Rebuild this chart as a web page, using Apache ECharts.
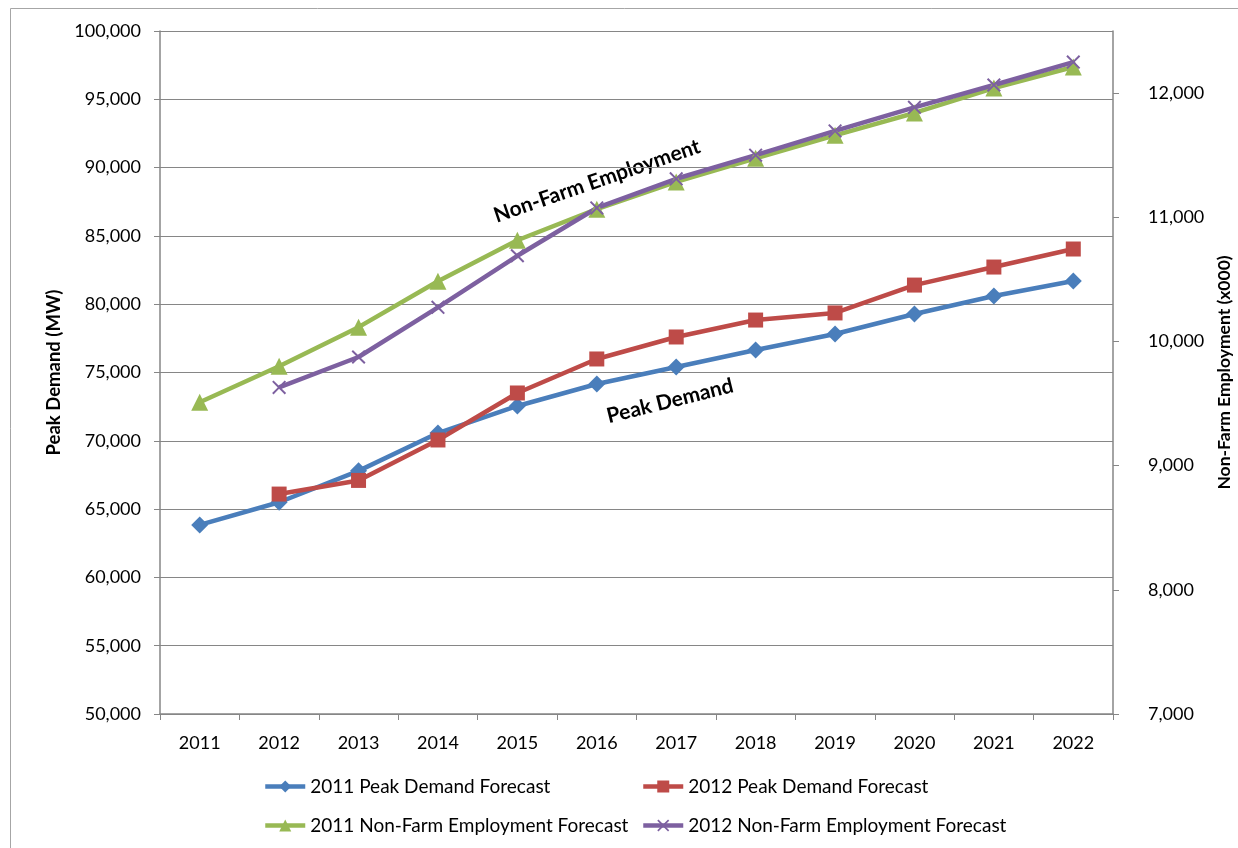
<!DOCTYPE html>
<html>
<head>
<meta charset="utf-8">
<script src="https://cdn.jsdelivr.net/npm/echarts@6/dist/echarts.min.js"></script>
<style>
  html, body { margin: 0; padding: 0; background: #fff; }
  #main { width: 1238px; height: 848px; }
</style>
</head>
<body>
<div id="main"></div>
<script>
const years = ['2011', '2012', '2013', '2014', '2015', '2016', '2017', '2018', '2019', '2020', '2021', '2022'];
const peak2011 = [63840, 65500, 67800, 70570, 72550, 74160, 75400, 76650, 77820, 79280, 80600, 81700];
const peak2012 = ['-', 66100, 67100, 70060, 73500, 75990, 77600, 78840, 79360, 81400, 82720, 84040];
const nfe2011 = [9510, 9800, 10115, 10485, 10815, 11065, 11285, 11475, 11660, 11840, 12040, 12210];
const nfe2012 = ['-', 9630, 9875, 10275, 10690, 11075, 11310, 11500, 11695, 11885, 12065, 12250];
const rightTicks = [7000, 8000, 9000, 10000, 11000, 12000];

const font = 'Lato, "Open Sans", sans-serif';
const axisGray = '#868686';
const crossPath = 'path://M0,1L1,0L5,4L9,0L10,1L6,5L10,9L9,10L5,6L1,10L0,9L4,5Z';

const chart = echarts.init(document.getElementById('main'));

const fmt = v => v.toLocaleString('en-US');

function legendAt(name, left, top) {
  return {
    data: [name],
    left: left,
    top: top,
    itemWidth: 40,
    itemHeight: 15,
    itemGap: 6,
    lineStyle: { width: 4.5 },
    textStyle: { fontFamily: font, fontSize: 19, color: '#000' },
    selectedMode: false
  };
}

const lineSeries = (name, data, color, symbol, size, axis) => ({
  name: name,
  type: 'line',
  yAxisIndex: axis,
  data: data,
  symbol: symbol,
  symbolSize: size,
  lineStyle: { color: color, width: 4.5 },
  itemStyle: { color: color },
  animation: false
});

chart.setOption({
  animation: false,
  grid: { left: 160, right: 125, top: 31, bottom: 134, outerBoundsMode: 'none', containLabel: false },
  graphic: [
    {
      type: 'rect',
      shape: { x: 10.5, y: 8.5, width: 1400, height: 1000 },
      style: { fill: 'none', stroke: '#a6a6a6', lineWidth: 1 },
      silent: true
    },
    {
      type: 'text',
      x: 597, y: 181,
      rotation: 19 * Math.PI / 180,
      style: {
        text: 'Non-Farm Employment',
        font: 'bold 21px ' + font,
        fill: '#000',
        align: 'center',
        verticalAlign: 'middle'
      }
    },
    {
      type: 'text',
      x: 670, y: 401,
      rotation: 14 * Math.PI / 180,
      style: {
        text: 'Peak Demand',
        font: 'bold 21px ' + font,
        fill: '#000',
        align: 'center',
        verticalAlign: 'middle'
      }
    }
  ],
  legend: [
    legendAt('2011 Peak Demand Forecast', 258, 772),
    legendAt('2012 Peak Demand Forecast', 636, 772),
    legendAt('2011 Non-Farm Employment Forecast', 258, 811),
    legendAt('2012 Non-Farm Employment Forecast', 636, 811)
  ],
  xAxis: {
    type: 'category',
    data: years,
    boundaryGap: true,
    axisLine: { lineStyle: { color: axisGray, width: 1.5 } },
    axisTick: { show: true, length: 6, lineStyle: { color: axisGray } },
    axisLabel: { fontFamily: font, fontSize: 18, color: '#000', margin: 20 },
    splitLine: { show: false }
  },
  yAxis: [
    {
      type: 'value',
      min: 50000,
      max: 100000,
      interval: 5000,
      name: 'Peak Demand (MW)',
      nameLocation: 'middle',
      nameGap: 96,
      nameTextStyle: { fontFamily: font, fontSize: 18.5, fontWeight: 'bold', color: '#000' },
      axisLine: { show: true, lineStyle: { color: axisGray, width: 1.5 } },
      axisTick: { show: true, length: 6, lineStyle: { color: axisGray } },
      axisLabel: { fontFamily: font, fontSize: 18, color: '#000', margin: 19, formatter: fmt },
      splitLine: { show: true, lineStyle: { color: axisGray, width: 1.2 } }
    },
    {
      type: 'value',
      min: 7000,
      max: 12500,
      interval: 1000,
      position: 'right',
      name: 'Non-Farm Employment (x000)',
      nameLocation: 'middle',
      nameGap: 87,
      nameRotate: 90,
      nameTextStyle: { fontFamily: font, fontSize: 17.5, fontWeight: 'bold', color: '#000' },
      axisLine: { show: true, lineStyle: { color: axisGray, width: 1.5 } },
      axisTick: { show: true, length: 6, customValues: rightTicks, lineStyle: { color: axisGray } },
      axisLabel: { fontFamily: font, fontSize: 18, color: '#000', margin: 21, padding: [0, 0, 0, 14], customValues: rightTicks, formatter: fmt },
      splitLine: { show: false }
    }
  ],
  series: [
    lineSeries('2011 Peak Demand Forecast', peak2011, '#4a7ebb', 'diamond', 17, 0),
    lineSeries('2012 Peak Demand Forecast', peak2012, '#be4b48', 'rect', 15, 0),
    lineSeries('2011 Non-Farm Employment Forecast', nfe2011, '#98b954', 'triangle', 17, 1),
    lineSeries('2012 Non-Farm Employment Forecast', nfe2012, '#7d60a0', crossPath, 14, 1)
  ]
});
</script>
</body>
</html>
